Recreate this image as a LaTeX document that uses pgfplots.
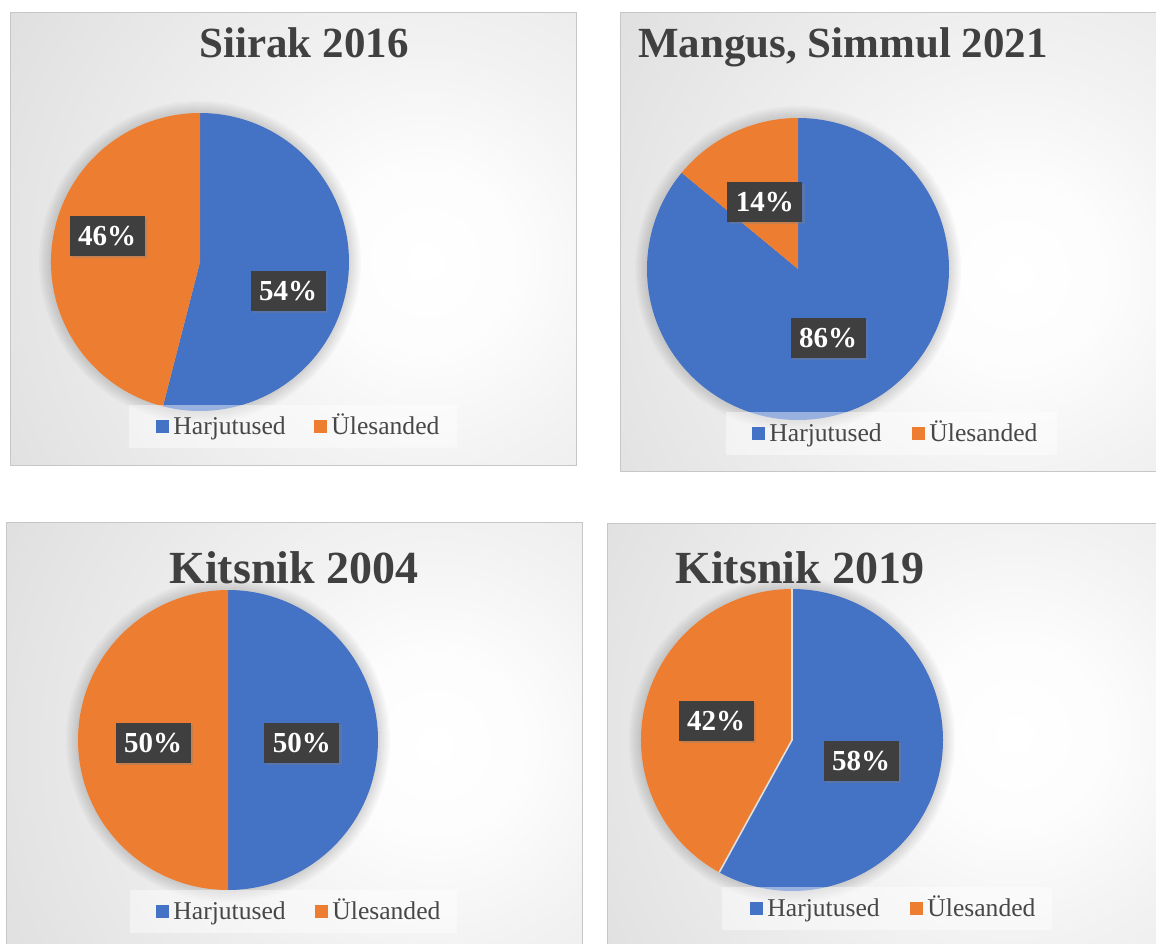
\documentclass[border=0pt]{standalone}
\usepackage{fontspec}
\setmainfont{Liberation Serif}
\usepackage{pgfplots}
\pgfplotsset{compat=1.18}
\usetikzlibrary{shadows}
\definecolor{hblue}{HTML}{4472C4}
\definecolor{uorange}{HTML}{ED7D31}
\definecolor{ttl}{HTML}{404040}
\definecolor{lbl}{HTML}{3F3F3F}
\definecolor{legtext}{HTML}{474747}
\pgfdeclareradialshading{panelbg}{\pgfpoint{0bp}{0bp}}{color(0bp)=(white); color(5bp)=(white!99!black); color(11bp)=(white!95!black); color(27bp)=(white!87!black); color(43bp)=(white!80!black); color(50bp)=(white!77!black)}
\newcommand{\legfont}{\fontsize{12.8}{14}\selectfont}
\tikzset{lab/.style={fill=lbl, text=white, font=\fontsize{14.5}{16}\selectfont\bfseries,
  minimum width=37.5pt, minimum height=20pt, inner sep=0pt,
  drop shadow={opacity=0.35, shadow xshift=1.2pt, shadow yshift=-1.2pt}}}
% panel: x1,y1,x2,y2, spot x, spot y, radius
\newcommand{\panel}[7]{%
\begin{scope}
\clip (#1,#2) rectangle (#3,#4);
\fill[white!77!black] (#1,#2) rectangle (#3,#4);
\shade[shading=panelbg] ({#5-#7},{#6-#7}) rectangle ({#5+#7},{#6+#7});
\end{scope}
\draw[black!22, line width=0.5pt] (#1,#2) rectangle (#3,#4);}
% slice: start percent, value percent, colour, radius
\newcommand{\slice}[4]{%
\fill[#3] (axis cs:0,0) -- (axis cs:{cos(90-3.6*#1)},{sin(90-3.6*#1)})
  arc[start angle={90-3.6*#1}, end angle={90-3.6*(#1+#2)}, radius=#4] -- cycle;}
% legend: box x1,y1,x2,y2, blue x, orange x, square top
\newcommand{\leg}[7]{%
\fill[white,opacity=0.45] (#1,#2) rectangle (#3,#4);
\fill[hblue] (#5,#7) rectangle ({#5+13},{#7+13});
\node[anchor=base west, inner sep=0pt, font=\legfont, text=legtext] at ({#5+17},{#7+14}) {Harjutused};
\fill[uorange] (#6,#7) rectangle ({#6+13},{#7+13});
\node[anchor=base west, inner sep=0pt, font=\legfont, text=legtext] at ({#6+17},{#7+14}) {Ülesanded};}
\newcommand{\halo}[3]{%
\foreach \k in {2,4,6,8,10,12} {\fill[black,opacity=0.025] (#1,#2) circle ({#3+\k});}}
\newcommand{\ttlfont}{\fontsize{21.5}{24}\selectfont\bfseries}
\newcommand{\ttlfontb}{\fontsize{23}{26}\selectfont\bfseries}
\begin{document}
\begin{tikzpicture}[x=0.5pt,y=-0.5pt]
\useasboundingbox (0,0) rectangle (1156,943);
\fill[white] (0,0) rectangle (1156,943);
% ---------- panels ----------
\panel{10}{12}{576}{465}{425}{262}{470}
\panel{620}{12}{1157}{471}{1015}{275}{470}
\panel{6}{522}{582}{944}{435}{745}{470}
\panel{607}{523}{1157}{944}{1015}{735}{470}
% ---------- centres ----------
\coordinate (c1) at (200,262);
\coordinate (c2) at (798,269);
\coordinate (c3) at (228,740);
\coordinate (c4) at (792,740);
\halo{200}{262}{149}
\halo{798}{269}{151}
\halo{228}{740}{150}
\halo{792}{740}{151}
% ---------- titles ----------
\node[font=\ttlfont, text=ttl, anchor=base] at (304,57) {Siirak 2016};
\node[font=\ttlfont, text=ttl, anchor=base] at (843,57) {Mangus, Simmul 2021};
\node[font=\ttlfontb, text=ttl, anchor=base] at (294,583) {Kitsnik 2004};
\node[font=\ttlfontb, text=ttl, anchor=base] at (800,583) {Kitsnik 2019};
\begin{scope}[x=1cm,y=1cm]
% ---------- Siirak 2016 ----------
\begin{axis}[at={(c1)}, anchor=center, scale only axis, width=149pt, height=149pt,
  xmin=-1, xmax=1, ymin=-1, ymax=1, hide axis, clip=false]
\slice{0}{54}{hblue}{74.5pt}
\slice{54}{46}{uorange}{74.5pt}
\node[lab] at (axis cs:-0.624,0.174) {46\%};
\node[lab] at (axis cs:0.591,-0.195) {54\%};
\end{axis}
% ---------- Mangus, Simmul 2021 ----------
\begin{axis}[at={(c2)}, anchor=center, scale only axis, width=151pt, height=151pt,
  xmin=-1, xmax=1, ymin=-1, ymax=1, hide axis, clip=false]
\slice{0}{86}{hblue}{75.5pt}
\slice{86}{14}{uorange}{75.5pt}
\node[lab] at (axis cs:-0.219,0.444) {14\%};
\node[lab] at (axis cs:0.199,-0.457) {86\%};
\end{axis}
% ---------- Kitsnik 2004 ----------
\begin{axis}[at={(c3)}, anchor=center, scale only axis, width=150pt, height=150pt,
  xmin=-1, xmax=1, ymin=-1, ymax=1, hide axis, clip=false]
\slice{0}{50}{hblue}{75pt}
\slice{50}{50}{uorange}{75pt}
\node[lab] at (axis cs:-0.5,-0.02) {50\%};
\node[lab] at (axis cs:0.493,-0.02) {50\%};
\end{axis}
% ---------- Kitsnik 2019 ----------
\begin{axis}[at={(c4)}, anchor=center, scale only axis, width=151pt, height=151pt,
  xmin=-1, xmax=1, ymin=-1, ymax=1, hide axis, clip=false]
\slice{0}{58}{hblue}{75.5pt}
\slice{58}{42}{uorange}{75.5pt}
\draw[black!12, line width=0.8pt] (axis cs:0,1) -- (axis cs:0,0) -- (axis cs:{cos(90-3.6*58)},{sin(90-3.6*58)});
\node[lab] at (axis cs:-0.503,0.126) {42\%};
\node[lab] at (axis cs:0.457,-0.139) {58\%};
\end{axis}
\end{scope}
% ---------- legends ----------
\leg{129}{405}{457}{448}{156}{314}{420}
\leg{726}{412}{1057}{455}{752}{912}{427}
\leg{130}{890}{457}{933}{156}{315}{905}
\leg{722}{887}{1052}{930}{750}{910}{902}
\end{tikzpicture}
\end{document}
